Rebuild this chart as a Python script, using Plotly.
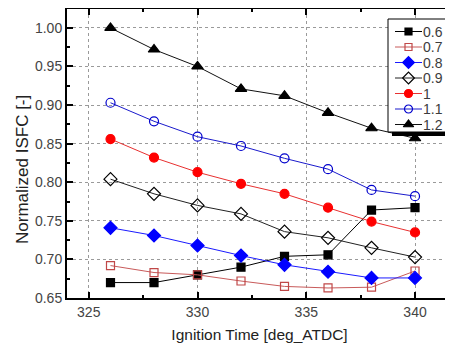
import plotly.graph_objects as go

# ---- data ----
ignition_time = [326, 328, 330, 332, 334, 336, 338, 340]
series_names = ["0.6", "0.7", "0.8", "0.9", "1", "1.1", "1.2"]
isfc_06 = [0.670, 0.670, 0.680, 0.690, 0.704, 0.706, 0.764, 0.767]
isfc_07 = [0.692, 0.683, 0.680, 0.672, 0.665, 0.663, 0.664, 0.685]
isfc_08 = [0.741, 0.731, 0.718, 0.705, 0.693, 0.684, 0.676, 0.676]
isfc_09 = [0.804, 0.785, 0.770, 0.759, 0.736, 0.728, 0.715, 0.703]
isfc_10 = [0.856, 0.832, 0.813, 0.798, 0.785, 0.767, 0.749, 0.735]
isfc_11 = [0.903, 0.879, 0.859, 0.847, 0.831, 0.817, 0.790, 0.782]
isfc_12 = [1.000, 0.972, 0.950, 0.921, 0.912, 0.890, 0.870, 0.857]
x_ticks = [325, 330, 335, 340]
y_ticks = [0.65, 0.70, 0.75, 0.80, 0.85, 0.90, 0.95, 1.00]
x_title = "Ignition Time [deg_ATDC]"
y_title = "Normalized ISFC [-]"

values = [isfc_06, isfc_07, isfc_08, isfc_09, isfc_10, isfc_11, isfc_12]
styles = [
    dict(line="#000000", symbol="square", fill="#000000", edge="#000000", size=8),
    dict(line="#c85a5a", symbol="square-open", fill="#c04848", edge="#c04848", size=8),
    dict(line="#1a1aff", symbol="diamond", fill="#0000ff", edge="#0000ff", size=10),
    dict(line="#222222", symbol="diamond-open", fill="#000000", edge="#000000", size=10),
    dict(line="#e83030", symbol="circle", fill="#ff0000", edge="#ff0000", size=9),
    dict(line="#1a1acc", symbol="circle-open", fill="#0000cc", edge="#0000cc", size=9),
    dict(line="#111111", symbol="triangle-up", fill="#000000", edge="#000000", size=10),
]

FONT = "Liberation Sans, Arial, sans-serif"

# The page body adds an 8px offset; lay the figure out in screen pixels.
OFF = 8
FIG_W, FIG_H = 453 - OFF, 346 - OFF
L, R, T, B = 67, 452, 9, 298          # plot area in screen pixels
W, H = R - L, B - T

fig = go.Figure()

for name, vals, st in zip(series_names, values, styles):
    fig.add_trace(go.Scatter(
        x=ignition_time, y=vals, name=name, mode="lines+markers",
        line=dict(color=st["line"], width=1),
        marker=dict(symbol=st["symbol"], size=st["size"], color=st["fill"],
                    line=dict(color=st["edge"], width=1.2)),
        showlegend=False, cliponaxis=False,
    ))

# ---- custom legend drawn on an overlay axis (0..1 over the plot area) ----
px = lambda v: (v - L) / W
py = lambda v: 1 - (v - T) / H
box = (388, 448, 19, 132)
sh = 4
def rect(x0, x1, y0, y1):
    return [px(x0), px(x1), px(x1), px(x0), px(x0)], [py(y0), py(y0), py(y1), py(y1), py(y0)]
sx, sy = rect(box[0] + sh, box[1] + sh, box[2] + sh, box[3] + sh)
fig.add_trace(go.Scatter(x=sx, y=sy, xaxis="x2", yaxis="y2", mode="lines", fill="toself",
                         fillcolor="#000000", line=dict(color="#000000", width=0),
                         showlegend=False, hoverinfo="skip"))
bx, by = rect(*box)
fig.add_trace(go.Scatter(x=bx, y=by, xaxis="x2", yaxis="y2", mode="lines", fill="toself",
                         fillcolor="#ffffff", line=dict(color="#000000", width=1),
                         showlegend=False, hoverinfo="skip"))
annotations = []
for i, (name, st) in enumerate(zip(series_names, styles)):
    yc = 31.5 + 15.5 * i
    fig.add_trace(go.Scatter(x=[px(395), px(422)], y=[py(yc), py(yc)], xaxis="x2", yaxis="y2",
                             mode="lines", line=dict(color=st["line"], width=1),
                             showlegend=False, hoverinfo="skip"))
    fig.add_trace(go.Scatter(x=[px(408.5)], y=[py(yc)], xaxis="x2", yaxis="y2", mode="markers",
                             marker=dict(symbol=st["symbol"], size=st["size"] - 1, color=st["fill"],
                                         line=dict(color=st["edge"], width=1.2)),
                             showlegend=False, hoverinfo="skip"))
    annotations.append(dict(x=px(422), y=py(yc), xref="x2", yref="y2", text=name,
                            showarrow=False, xanchor="left", yanchor="middle", borderpad=0,
                            font=dict(family=FONT, size=14, color="#3c3c3c")))

# y-axis title (placed where the reference has it)
annotations.append(dict(x=px(22), y=py(170), xref="paper", yref="paper", text=y_title,
                        textangle=-90, showarrow=False, xanchor="center", yanchor="middle",
                        font=dict(family=FONT, size=17, color="#222222")))

axis_common = dict(
    showline=True, linecolor="#000000", linewidth=2, mirror="allticks",
    ticks="inside", ticklen=6, tickwidth=1.5, tickcolor="#000000",
    showgrid=True, gridcolor="#9a9a9a", griddash="dot", gridwidth=1,
    zeroline=False,
    tickfont=dict(family=FONT, size=14, color="#444444"),
)

fig.update_layout(
    width=FIG_W, height=FIG_H,
    margin=dict(l=L - OFF, r=453 - R, t=T - OFF, b=346 - B, autoexpand=False),
    paper_bgcolor="#ffffff", plot_bgcolor="#ffffff",
    showlegend=False,
    xaxis=dict(range=[324.0, 341.7], tickvals=x_ticks,
               minor=dict(dtick=2.5, tick0=325, ticks="inside", ticklen=3, tickcolor="#000000", showgrid=False),
               title=dict(text=x_title, font=dict(family=FONT, size=15.5, color="#222222"),
                          standoff=10),
               **axis_common),
    yaxis=dict(range=[0.65, 1.0245], tickvals=y_ticks, tickformat=".2f",
               minor=dict(dtick=0.025, tick0=0.65, ticks="inside", ticklen=3, tickcolor="#000000", showgrid=False),
               **axis_common),
    xaxis2=dict(overlaying="x", range=[0, 1], visible=False, fixedrange=True),
    yaxis2=dict(overlaying="y", range=[0, 1], visible=False, fixedrange=True),
    annotations=annotations,
)

fig.write_html("out.html")
